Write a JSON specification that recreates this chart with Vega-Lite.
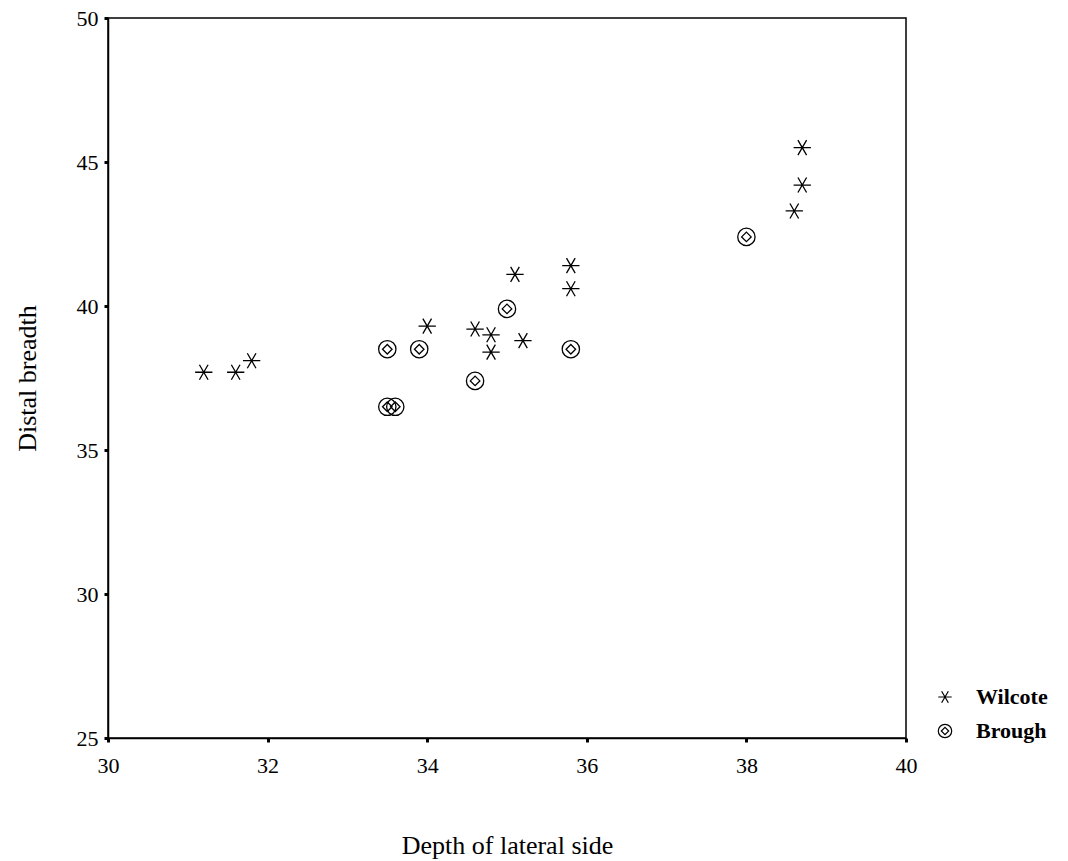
{
  "$schema": "https://vega.github.io/schema/vega-lite/v6.json",
  "autosize": "none",
  "width": 798,
  "height": 720,
  "padding": {"left": 108, "top": 18, "right": 162, "bottom": 123},
  "background": "white",
  "config": {
    "font": "Liberation Serif",
    "view": {"stroke": "black", "strokeWidth": 1.5},
    "axis": {"grid": false, "domainColor": "black", "domainWidth": 1.5, "tickColor": "black", "tickWidth": 3, "tickSize": 4, "labelColor": "black", "titleColor": "black", "labelFont": "Liberation Serif", "titleFont": "Liberation Serif", "labelFontSize": 22, "titleFontSize": 26, "titleFontWeight": "normal", "labelFlush": false}
  },
  "data": {"values": [
    {"group": "Wilcote", "depth": 31.2, "breadth": 37.7},
    {"group": "Wilcote", "depth": 31.6, "breadth": 37.7},
    {"group": "Wilcote", "depth": 31.8, "breadth": 38.1},
    {"group": "Wilcote", "depth": 34.0, "breadth": 39.3},
    {"group": "Wilcote", "depth": 34.6, "breadth": 39.2},
    {"group": "Wilcote", "depth": 34.8, "breadth": 39.0},
    {"group": "Wilcote", "depth": 34.8, "breadth": 38.4},
    {"group": "Wilcote", "depth": 35.2, "breadth": 38.8},
    {"group": "Wilcote", "depth": 35.1, "breadth": 41.1},
    {"group": "Wilcote", "depth": 35.8, "breadth": 41.4},
    {"group": "Wilcote", "depth": 35.8, "breadth": 40.6},
    {"group": "Wilcote", "depth": 38.7, "breadth": 45.5},
    {"group": "Wilcote", "depth": 38.7, "breadth": 44.2},
    {"group": "Wilcote", "depth": 38.6, "breadth": 43.3},
    {"group": "Brough", "depth": 33.5, "breadth": 38.5},
    {"group": "Brough", "depth": 33.9, "breadth": 38.5},
    {"group": "Brough", "depth": 35.0, "breadth": 39.9},
    {"group": "Brough", "depth": 35.8, "breadth": 38.5},
    {"group": "Brough", "depth": 34.6, "breadth": 37.4},
    {"group": "Brough", "depth": 33.5, "breadth": 36.5},
    {"group": "Brough", "depth": 33.6, "breadth": 36.5},
    {"group": "Brough", "depth": 38.0, "breadth": 42.4}
  ]},
  "mark": {"type": "point", "filled": false, "stroke": "black", "strokeWidth": 1.3, "size": 300, "opacity": 1},
  "encoding": {
    "x": {"field": "depth", "type": "quantitative", "title": "Depth of lateral side",
      "scale": {"domain": [30, 40], "nice": false, "zero": false},
      "axis": {"values": [30, 32, 34, 36, 38, 40], "labelPadding": 13, "titlePadding": 56}},
    "y": {"field": "breadth", "type": "quantitative", "title": "Distal breadth",
      "scale": {"domain": [25, 50], "nice": false, "zero": false},
      "axis": {"values": [25, 30, 35, 40, 45, 50], "labelPadding": 6, "titlePadding": 36}},
    "shape": {"field": "group", "type": "nominal",
      "scale": {"domain": ["Wilcote", "Brough"], "range": [
        "M-1,0L1,0M-0.5,-0.866L0.5,0.866M-0.5,0.866L0.5,-0.866",
        "M-1,0A1,1 0 1,0 1,0A1,1 0 1,0 -1,0ZM0,-0.55L0.55,0L0,0.55L-0.55,0Z"
      ]},
      "legend": {"title": null, "orient": "none", "legendX": 826, "legendY": 668, "symbolSize": 180, "symbolStrokeWidth": 1.2, "symbolStrokeColor": "black", "symbolFillColor": "transparent", "labelFontSize": 22, "labelFontWeight": "bold", "labelFont": "Liberation Serif", "labelColor": "black", "labelOffset": 20, "rowPadding": 12}}
  }
}
